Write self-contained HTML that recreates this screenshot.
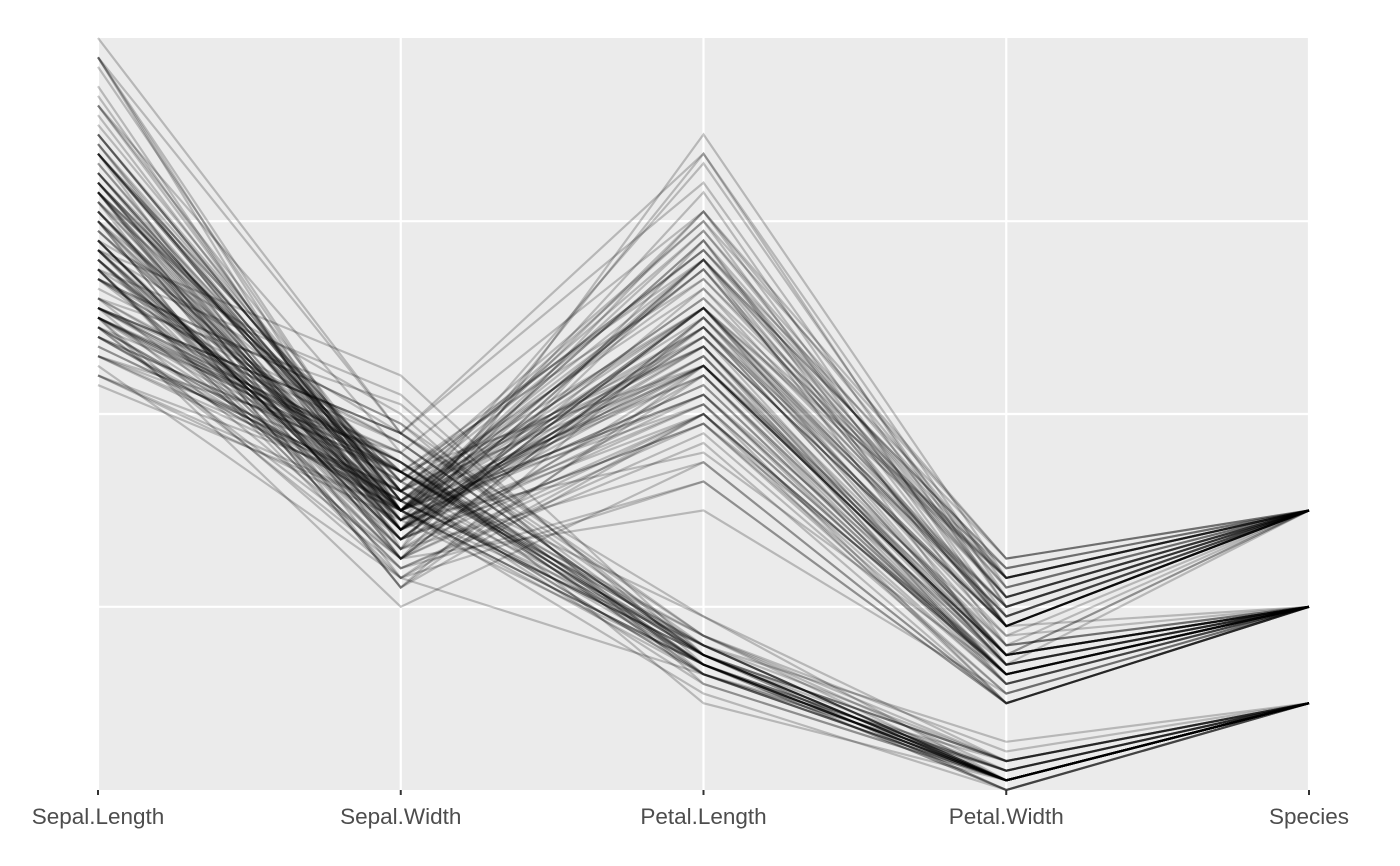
<!DOCTYPE html>
<html><head><meta charset="utf-8"><style>
html,body{margin:0;padding:0;background:#fff;}
svg{display:block;font-family:"Liberation Sans",sans-serif;}
</style></head><body>
<svg id="chart" width="1400" height="866">
<rect x="98" y="38" width="1211" height="752" fill="#EBEBEB"/>
<g id="grid"></g><g id="lines"></g><g id="axis"></g>
</svg>
<script>
const variables=["Sepal.Length","Sepal.Width","Petal.Length","Petal.Width","Species"];
const yTicks=[2,4,6];
const setosa=[[5.1,3.5,1.4,0.2],[4.9,3.0,1.4,0.2],[4.7,3.2,1.3,0.2],[4.6,3.1,1.5,0.2],[5.0,3.6,1.4,0.2],[5.4,3.9,1.7,0.4],[4.6,3.4,1.4,0.3],[5.0,3.4,1.5,0.2],[4.4,2.9,1.4,0.2],[4.9,3.1,1.5,0.1],[5.4,3.7,1.5,0.2],[4.8,3.4,1.6,0.2],[4.8,3.0,1.4,0.1],[4.3,3.0,1.1,0.1],[5.8,4.0,1.2,0.2],[5.7,4.4,1.5,0.4],[5.4,3.9,1.3,0.4],[5.1,3.5,1.4,0.3],[5.7,3.8,1.7,0.3],[5.1,3.8,1.5,0.3],[5.4,3.4,1.7,0.2],[5.1,3.7,1.5,0.4],[4.6,3.6,1.0,0.2],[5.1,3.3,1.7,0.5],[4.8,3.4,1.9,0.2],[5.0,3.0,1.6,0.2],[5.0,3.4,1.6,0.4],[5.2,3.5,1.5,0.2],[5.2,3.4,1.4,0.2],[4.7,3.2,1.6,0.2],[4.8,3.1,1.6,0.2],[5.4,3.4,1.5,0.4],[5.2,4.1,1.5,0.1],[5.5,4.2,1.4,0.2],[4.9,3.1,1.5,0.2],[5.0,3.2,1.2,0.2],[5.5,3.5,1.3,0.2],[4.9,3.6,1.4,0.1],[4.4,3.0,1.3,0.2],[5.1,3.4,1.5,0.2],[5.0,3.5,1.3,0.3],[4.5,2.3,1.3,0.3],[4.4,3.2,1.3,0.2],[5.0,3.5,1.6,0.6],[5.1,3.8,1.9,0.4],[4.8,3.0,1.4,0.3],[5.1,3.8,1.6,0.2],[4.6,3.2,1.4,0.2],[5.3,3.7,1.5,0.2],[5.0,3.3,1.4,0.2]];
const versicolor=[[7.0,3.2,4.7,1.4],[6.4,3.2,4.5,1.5],[6.9,3.1,4.9,1.5],[5.5,2.3,4.0,1.3],[6.5,2.8,4.6,1.5],[5.7,2.8,4.5,1.3],[6.3,3.3,4.7,1.6],[4.9,2.4,3.3,1.0],[6.6,2.9,4.6,1.3],[5.2,2.7,3.9,1.4],[5.0,2.0,3.5,1.0],[5.9,3.0,4.2,1.5],[6.0,2.2,4.0,1.0],[6.1,2.9,4.7,1.4],[5.6,2.9,3.6,1.3],[6.7,3.1,4.4,1.4],[5.6,3.0,4.5,1.5],[5.8,2.7,4.1,1.0],[6.2,2.2,4.5,1.5],[5.6,2.5,3.9,1.1],[5.9,3.2,4.8,1.8],[6.1,2.8,4.0,1.3],[6.3,2.5,4.9,1.5],[6.1,2.8,4.7,1.2],[6.4,2.9,4.3,1.3],[6.6,3.0,4.4,1.4],[6.8,2.8,4.8,1.4],[6.7,3.0,5.0,1.7],[6.0,2.9,4.5,1.5],[5.7,2.6,3.5,1.0],[5.5,2.4,3.8,1.1],[5.5,2.4,3.7,1.0],[5.8,2.7,3.9,1.2],[6.0,2.7,5.1,1.6],[5.4,3.0,4.5,1.5],[6.0,3.4,4.5,1.6],[6.7,3.1,4.7,1.5],[6.3,2.3,4.4,1.3],[5.6,3.0,4.1,1.3],[5.5,2.5,4.0,1.3],[5.5,2.6,4.4,1.2],[6.1,3.0,4.6,1.4],[5.8,2.6,4.0,1.2],[5.0,2.3,3.3,1.0],[5.6,2.7,4.2,1.3],[5.7,3.0,4.2,1.2],[5.7,2.9,4.2,1.3],[6.2,2.9,4.3,1.3],[5.1,2.5,3.0,1.1],[5.7,2.8,4.1,1.3]];
const virginica=[[6.3,3.3,6.0,2.5],[5.8,2.7,5.1,1.9],[7.1,3.0,5.9,2.1],[6.3,2.9,5.6,1.8],[6.5,3.0,5.8,2.2],[7.6,3.0,6.6,2.1],[4.9,2.5,4.5,1.7],[7.3,2.9,6.3,1.8],[6.7,2.5,5.8,1.8],[7.2,3.6,6.1,2.5],[6.5,3.2,5.1,2.0],[6.4,2.7,5.3,1.9],[6.8,3.0,5.5,2.1],[5.7,2.5,5.0,2.0],[5.8,2.8,5.1,2.4],[6.4,3.2,5.3,2.3],[6.5,3.0,5.5,1.8],[7.7,3.8,6.7,2.2],[7.7,2.6,6.9,2.3],[6.0,2.2,5.0,1.5],[6.9,3.2,5.7,2.3],[5.6,2.8,4.9,2.0],[7.7,2.8,6.7,2.0],[6.3,2.7,4.9,1.8],[6.7,3.3,5.7,2.1],[7.2,3.2,6.0,1.8],[6.2,2.8,4.8,1.8],[6.1,3.0,4.9,1.8],[6.4,2.8,5.6,2.1],[7.2,3.0,5.8,1.6],[7.4,2.8,6.1,1.9],[7.9,3.8,6.4,2.0],[6.4,2.8,5.6,2.2],[6.3,2.8,5.1,1.5],[6.1,2.6,5.6,1.4],[7.7,3.0,6.1,2.3],[6.3,3.4,5.6,2.4],[6.4,3.1,5.5,1.8],[6.0,3.0,4.8,1.8],[6.9,3.1,5.4,2.1],[6.7,3.1,5.6,2.4],[6.9,3.1,5.1,2.3],[5.8,2.7,5.1,1.9],[6.8,3.2,5.9,2.3],[6.7,3.3,5.7,2.5],[6.7,3.0,5.2,2.3],[6.3,2.5,5.0,1.9],[6.5,3.0,5.2,2.0],[6.2,3.4,5.4,2.3],[5.9,3.0,5.1,1.8]];
const speciesCodes=[1,2,3];

const NS="http://www.w3.org/2000/svg";
const x0=98,x1=1309,yBot=790,yTop=38;
let all=[];
[setosa,versicolor,virginica].forEach((g,i)=>g.forEach(r=>all.push(r.concat([speciesCodes[i]]))));
let vmin=Infinity,vmax=-Infinity;
all.forEach(r=>r.forEach(v=>{if(v<vmin)vmin=v;if(v>vmax)vmax=v;}));
const xs=i=>x0+i*(x1-x0)/(variables.length-1);
const ys=v=>yBot-(v-vmin)/(vmax-vmin)*(yBot-yTop);

const grid=document.getElementById('grid');
yTicks.forEach(t=>{
  const l=document.createElementNS(NS,'line');
  l.setAttribute('x1',x0);l.setAttribute('x2',x1);
  l.setAttribute('y1',ys(t));l.setAttribute('y2',ys(t));
  l.setAttribute('stroke','#fff');l.setAttribute('stroke-width','2.2');
  
  
  grid.appendChild(l);
});
variables.forEach((v,i)=>{
  const l=document.createElementNS(NS,'line');
  l.setAttribute('x1',xs(i));l.setAttribute('x2',xs(i));
  l.setAttribute('y1',yTop);l.setAttribute('y2',yBot);
  l.setAttribute('stroke','#fff');l.setAttribute('stroke-width','2.2');
  
  
  grid.appendChild(l);
});
const lines=document.getElementById('lines');
all.forEach(r=>{
  const p=document.createElementNS(NS,'polyline');
  p.setAttribute('points',r.map((v,i)=>xs(i)+','+ys(v)).join(' '));
  p.setAttribute('fill','none');p.setAttribute('stroke','#000');
  p.setAttribute('stroke-opacity','0.22');p.setAttribute('stroke-width','2.2');
  
  
  lines.appendChild(p);
});
const axis=document.getElementById('axis');
variables.forEach((v,i)=>{
  const t=document.createElementNS(NS,'line');
  t.setAttribute('x1',xs(i));t.setAttribute('x2',xs(i));
  t.setAttribute('y1',yBot);t.setAttribute('y2',yBot+5);
  t.setAttribute('stroke','#333');t.setAttribute('stroke-width','2');
  
  
  axis.appendChild(t);
  const tx=document.createElementNS(NS,'text');
  tx.setAttribute('x',xs(i));tx.setAttribute('y',824);
  tx.setAttribute('text-anchor','middle');tx.setAttribute('font-size','22.5');
  tx.setAttribute('fill','#4D4D4D');
  tx.textContent=v;
  
  
  axis.appendChild(tx);
});
</script>
</body></html>
